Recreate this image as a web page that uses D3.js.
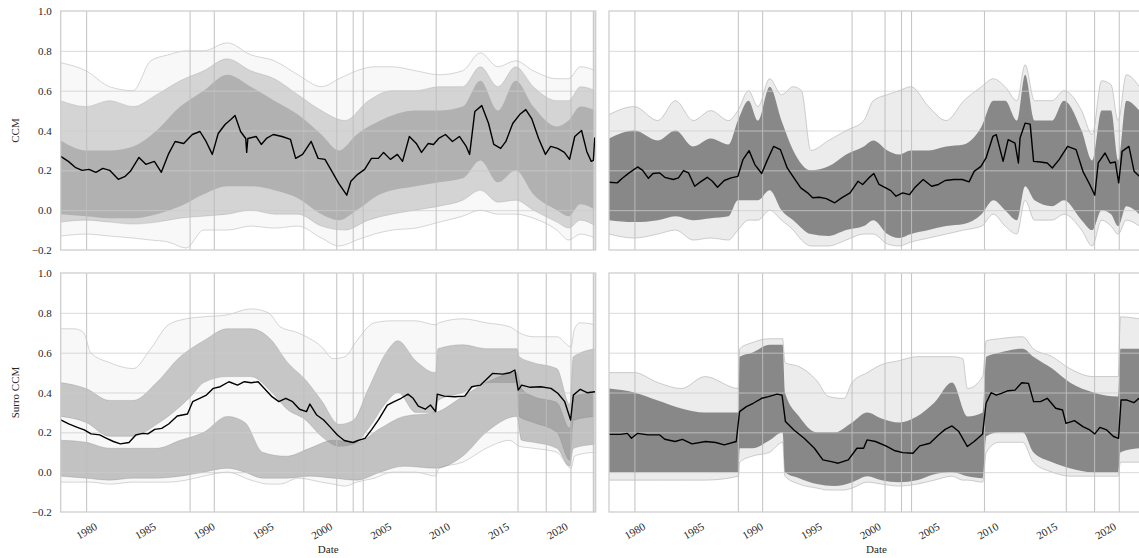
<!DOCTYPE html>
<html>
<head>
<meta charset="utf-8">
<script src="https://cdn.jsdelivr.net/npm/d3@7"></script>
<style>
  html, body { margin: 0; padding: 0; background: #fff; }
  svg { display: block; font-family: "Liberation Serif", "DejaVu Serif", serif; }
</style>
</head>
<body>
<svg id="chart" width="1139" height="558"></svg>
<script>
// ---------------------------------------------------------------------------
// Data (decimal years)
// ---------------------------------------------------------------------------
const yearTicks = [1980, 1985, 1990, 1995, 2000, 2005, 2010, 2015, 2020];
const valueTicks = [-0.2, 0.0, 0.2, 0.4, 0.6, 0.8, 1.0];
const yearDomain = [1977.85, 2023.3];
const valueDomain = [-0.2, 1.0];

// event dates marked with vertical lines
const eventDates = [1980.05, 1988.84, 1990.9, 1998.5, 2001.3, 2002.7, 2003.55,
  2009.75, 2016.7, 2019.1, 2021.2, 2023.1];
const shadedSpan = [2023.1, 2023.3];

const rowTitles = ["CCM", "Surro CCM"];
const xTitle = "Date";

// ---- CCM, left column ----
const ccmLeftMedian = [[1977.85,0.27],[1978.5,0.245],[1979.08,0.215],[1979.67,0.20],[1980.25,0.205],[1980.84,0.19],[1981.43,0.21],[1982.01,0.20],[1982.74,0.155],[1983.33,0.17],[1983.77,0.195],[1984.5,0.265],[1985.08,0.23],[1985.81,0.245],[1986.4,0.19],[1986.99,0.28],[1987.57,0.345],[1988.3,0.335],[1989.03,0.38],[1989.68,0.395],[1990.2,0.345],[1990.73,0.28],[1991.23,0.385],[1991.81,0.43],[1992.3,0.455],[1992.66,0.475],[1993.13,0.395],[1993.57,0.36],[1993.65,0.29],[1993.75,0.36],[1994.45,0.37],[1994.89,0.33],[1995.33,0.36],[1995.91,0.38],[1996.65,0.37],[1997.37,0.355],[1997.81,0.26],[1998.4,0.28],[1999.13,0.345],[1999.72,0.26],[2000.3,0.255],[2000.89,0.195],[2001.47,0.135],[2002.15,0.075],[2002.5,0.145],[2003.08,0.18],[2003.67,0.205],[2004.25,0.26],[2004.84,0.26],[2005.28,0.29],[2005.86,0.255],[2006.45,0.28],[2006.89,0.245],[2007.47,0.37],[2008.06,0.335],[2008.5,0.29],[2009.08,0.335],[2009.52,0.33],[2009.96,0.36],[2010.54,0.38],[2011.13,0.345],[2011.72,0.37],[2012.3,0.32],[2012.59,0.28],[2013.03,0.495],[2013.62,0.525],[2014.2,0.435],[2014.64,0.33],[2015.23,0.31],[2015.67,0.345],[2016.25,0.435],[2016.84,0.48],[2017.36,0.505],[2017.86,0.46],[2018.45,0.36],[2019.03,0.28],[2019.47,0.32],[2020.06,0.31],[2020.64,0.29],[2021.08,0.255],[2021.52,0.37],[2022.1,0.40],[2022.54,0.295],[2022.92,0.245],[2023.1,0.25],[2023.22,0.365]];
// [year, low, high]
const ccmLeftOuter = [[1977.85,-0.13,0.74],[1980,-0.12,0.70],[1982,-0.13,0.62],[1984,-0.14,0.60],[1985.5,-0.15,0.75],[1987,-0.16,0.78],[1988.5,-0.19,0.80],[1990,-0.10,0.80],[1992,-0.10,0.84],[1994,-0.08,0.78],[1996,-0.09,0.75],[1998,-0.08,0.68],[2000,-0.14,0.62],[2001.5,-0.18,0.66],[2003,-0.15,0.70],[2004.5,-0.12,0.72],[2006,-0.10,0.72],[2008,-0.09,0.70],[2010,-0.06,0.68],[2012,-0.03,0.70],[2013.5,0.00,0.79],[2015,-0.02,0.72],[2016.5,-0.02,0.75],[2018,-0.04,0.70],[2020,-0.10,0.66],[2021,-0.15,0.66],[2022,-0.12,0.72],[2023.3,-0.14,0.70]];
const ccmLeftMid = [[1977.85,-0.06,0.55],[1980,-0.05,0.52],[1982,-0.06,0.55],[1984,-0.07,0.52],[1986,-0.06,0.58],[1988,-0.04,0.65],[1990,-0.03,0.70],[1992,-0.02,0.76],[1994,0.00,0.70],[1996,-0.02,0.66],[1998,-0.02,0.58],[2000,-0.08,0.50],[2002,-0.10,0.45],[2004,-0.05,0.55],[2006,-0.02,0.60],[2008,0.00,0.60],[2010,0.02,0.62],[2012,0.05,0.62],[2013.5,0.10,0.72],[2015,0.04,0.62],[2016.5,0.05,0.72],[2018,0.00,0.62],[2020,-0.06,0.55],[2021,-0.09,0.55],[2022,-0.05,0.62],[2023.3,-0.08,0.60]];
const ccmLeftCore = [[1977.85,-0.02,0.35],[1980,-0.03,0.30],[1982,-0.04,0.30],[1984,-0.04,0.32],[1986,-0.02,0.40],[1988,0.02,0.52],[1990,0.08,0.60],[1992,0.12,0.68],[1994,0.12,0.62],[1996,0.10,0.55],[1998,0.06,0.48],[2000,-0.02,0.38],[2001.5,-0.05,0.30],[2003,0.00,0.38],[2005,0.08,0.45],[2008,0.12,0.50],[2010,0.14,0.50],[2012,0.16,0.52],[2013.5,0.25,0.65],[2015,0.14,0.50],[2016.5,0.20,0.65],[2018,0.08,0.52],[2020,0.00,0.42],[2021,-0.03,0.45],[2022,0.03,0.52],[2023.3,0.00,0.50]];

// ---- CCM, right column ----
const ccmRightMedian = [[1977.85,0.14],[1978.55,0.137],[1978.98,0.16],[1979.56,0.187],[1980.28,0.217],[1980.71,0.20],[1981.2,0.16],[1981.58,0.184],[1982.16,0.187],[1982.59,0.165],[1983.31,0.154],[1983.75,0.162],[1984.18,0.199],[1984.61,0.187],[1985.13,0.12],[1985.62,0.142],[1986.2,0.165],[1986.63,0.145],[1987.07,0.115],[1987.64,0.149],[1988.22,0.162],[1988.8,0.17],[1989.23,0.254],[1989.75,0.299],[1990.24,0.229],[1990.82,0.184],[1991.25,0.245],[1991.83,0.32],[1992.41,0.304],[1992.99,0.212],[1993.56,0.162],[1994.14,0.112],[1994.72,0.087],[1995.15,0.062],[1995.73,0.065],[1996.31,0.058],[1997.03,0.037],[1997.61,0.062],[1998.33,0.087],[1999.0,0.145],[1999.4,0.129],[1999.92,0.162],[2000.35,0.184],[2000.79,0.129],[2001.36,0.112],[2001.79,0.098],[2002.23,0.07],[2002.8,0.087],[2003.38,0.078],[2003.81,0.112],[2004.54,0.154],[2005.26,0.12],[2005.84,0.129],[2006.41,0.149],[2007.14,0.154],[2007.86,0.154],[2008.44,0.142],[2008.87,0.195],[2009.45,0.22],[2009.88,0.262],[2010.46,0.37],[2010.75,0.379],[2011.33,0.245],[2011.76,0.354],[2012.34,0.337],[2012.63,0.237],[2012.77,0.362],[2013.2,0.437],[2013.63,0.432],[2013.92,0.245],[2014.5,0.242],[2015.08,0.237],[2015.51,0.212],[2016.09,0.254],[2016.81,0.32],[2017.53,0.304],[2018.11,0.195],[2018.69,0.129],[2019.12,0.075],[2019.41,0.237],[2019.99,0.287],[2020.43,0.237],[2020.86,0.242],[2021.15,0.137],[2021.44,0.295],[2022.02,0.32],[2022.46,0.195],[2022.9,0.17]];
const ccmRightOuter = [[1977.85,-0.12,0.48],[1980,-0.14,0.52],[1982,-0.12,0.45],[1983.5,-0.10,0.55],[1985,-0.15,0.45],[1986.5,-0.14,0.50],[1988,-0.15,0.45],[1988.8,-0.10,0.50],[1989.7,-0.05,0.60],[1990.5,-0.05,0.52],[1991.5,0.00,0.66],[1992.5,-0.05,0.58],[1993.5,-0.10,0.62],[1994.2,-0.15,0.60],[1995,-0.18,0.30],[1996.5,-0.18,0.35],[1998,-0.15,0.40],[1999.5,-0.12,0.45],[2000.3,-0.12,0.55],[2001.5,-0.17,0.58],[2002.5,-0.18,0.60],[2003.5,-0.16,0.62],[2005,-0.14,0.52],[2006.5,-0.12,0.45],[2008,-0.10,0.55],[2009.5,-0.08,0.62],[2010.5,-0.02,0.66],[2011.5,-0.08,0.62],[2012.5,-0.12,0.55],[2013.2,0.05,0.73],[2014,-0.05,0.55],[2015.5,-0.05,0.55],[2016.5,-0.02,0.60],[2018,-0.10,0.50],[2018.9,-0.18,0.38],[2019.7,-0.05,0.65],[2020.5,-0.08,0.63],[2021.1,-0.12,0.45],[2021.8,-0.05,0.68],[2022.9,-0.08,0.62]];
const ccmRightCore = [[1977.85,-0.05,0.36],[1980,-0.06,0.40],[1982,-0.05,0.35],[1983.5,-0.03,0.40],[1985,-0.05,0.32],[1986.5,-0.04,0.36],[1988,-0.03,0.33],[1988.8,0.05,0.45],[1989.7,0.05,0.55],[1990.5,0.05,0.45],[1991.5,0.10,0.62],[1992.5,0.00,0.45],[1993.5,-0.05,0.30],[1995,-0.12,0.20],[1996.5,-0.13,0.22],[1998,-0.10,0.28],[1999.5,-0.08,0.32],[2000.3,-0.05,0.35],[2001.5,-0.12,0.30],[2002.5,-0.14,0.28],[2003.5,-0.12,0.30],[2005,-0.10,0.30],[2006.5,-0.08,0.32],[2008,-0.07,0.33],[2009.5,-0.02,0.42],[2010.5,0.05,0.55],[2011.5,0.00,0.55],[2012.5,-0.05,0.45],[2013.2,0.12,0.68],[2014,0.05,0.45],[2015.5,0.02,0.45],[2016.5,0.05,0.55],[2018,-0.05,0.40],[2018.9,-0.10,0.25],[2019.7,0.00,0.50],[2020.5,-0.02,0.50],[2021.1,-0.08,0.25],[2021.8,0.02,0.55],[2022.9,-0.02,0.50]];

// ---- Surrogate CCM, left column ----
const surroLeftMedian = [[1977.85,0.262],[1978.53,0.242],[1979.26,0.225],[1979.85,0.212],[1980.43,0.192],[1981.16,0.187],[1981.75,0.17],[1982.33,0.154],[1982.92,0.142],[1983.65,0.149],[1984.23,0.187],[1984.82,0.195],[1985.26,0.192],[1985.84,0.215],[1986.43,0.22],[1987.02,0.242],[1987.75,0.282],[1988.62,0.292],[1989.06,0.354],[1989.65,0.371],[1990.23,0.387],[1990.82,0.421],[1991.4,0.429],[1992.14,0.454],[1992.87,0.437],[1993.45,0.454],[1994.04,0.449],[1994.62,0.454],[1995.21,0.416],[1995.8,0.379],[1996.38,0.354],[1996.97,0.371],[1997.55,0.354],[1998.14,0.316],[1998.73,0.304],[1999.02,0.342],[1999.6,0.287],[2000.19,0.262],[2000.77,0.225],[2001.36,0.187],[2001.94,0.159],[2002.67,0.149],[2003.11,0.159],[2003.7,0.17],[2004.28,0.215],[2004.87,0.265],[2005.6,0.337],[2006.18,0.354],[2006.77,0.371],[2007.35,0.392],[2007.79,0.371],[2008.23,0.332],[2008.82,0.316],[2009.26,0.337],[2009.7,0.304],[2009.84,0.392],[2010.43,0.382],[2011.3,0.379],[2012.18,0.382],[2012.77,0.429],[2013.5,0.437],[2013.94,0.462],[2014.53,0.496],[2015.4,0.492],[2015.99,0.499],[2016.43,0.513],[2016.72,0.412],[2017.01,0.437],[2017.74,0.426],[2018.62,0.429],[2019.5,0.421],[2020.08,0.396],[2020.67,0.354],[2021.17,0.262],[2021.4,0.387],[2021.99,0.416],[2022.57,0.399],[2023.24,0.404]];
const surroLeftOuter = [[1977.85,-0.05,0.72],[1979,-0.05,0.72],[1979.8,-0.05,0.70],[1980.4,-0.05,0.60],[1982,-0.06,0.55],[1984,-0.05,0.52],[1985.5,-0.05,0.62],[1987,-0.05,0.74],[1988.5,-0.04,0.77],[1990,-0.02,0.78],[1992,0.00,0.79],[1994,-0.04,0.82],[1995.5,-0.06,0.80],[1996.5,-0.06,0.73],[1998,-0.03,0.70],[2000,-0.05,0.63],[2001,-0.06,0.57],[2002,-0.07,0.58],[2003,-0.05,0.66],[2004.5,-0.03,0.75],[2006,0.00,0.76],[2008,0.00,0.76],[2009.7,-0.02,0.74],[2010,0.02,0.75],[2012,0.05,0.77],[2014,0.12,0.75],[2016,0.16,0.73],[2016.8,0.13,0.70],[2018,0.12,0.68],[2020,0.10,0.68],[2021.2,0.02,0.63],[2021.5,0.08,0.72],[2022,0.09,0.75],[2023.3,0.10,0.74]];
const surroLeftUpper = [[1977.85,0.28,0.45],[1980,0.25,0.42],[1982,0.18,0.36],[1984,0.18,0.36],[1986,0.24,0.45],[1988,0.33,0.58],[1988.9,0.38,0.62],[1990,0.45,0.66],[1992,0.48,0.72],[1994,0.48,0.72],[1995.8,0.40,0.66],[1997,0.32,0.56],[1998.7,0.26,0.46],[2000,0.18,0.36],[2001.5,0.13,0.24],[2002.7,0.14,0.26],[2004,0.22,0.42],[2005.5,0.35,0.60],[2006.5,0.40,0.66],[2008,0.30,0.56],[2009.7,0.30,0.50],[2009.9,0.36,0.62],[2012,0.40,0.64],[2014,0.45,0.62],[2016.6,0.45,0.62],[2016.8,0.28,0.58],[2018,0.25,0.55],[2020,0.20,0.52],[2021.1,0.06,0.34],[2021.4,0.26,0.58],[2023.3,0.28,0.62]];
const surroLeftLower = [[1977.85,-0.02,0.16],[1980,-0.03,0.15],[1982,-0.04,0.12],[1984,-0.03,0.12],[1986,-0.03,0.12],[1988,-0.02,0.16],[1990,0.00,0.20],[1992,0.02,0.28],[1993.5,0.00,0.25],[1995,-0.03,0.10],[1997,-0.03,0.08],[1999,-0.02,0.12],[2001,-0.03,0.16],[2003,-0.04,0.15],[2005,0.00,0.22],[2007,0.03,0.28],[2009.7,0.02,0.30],[2012,0.08,0.38],[2014,0.20,0.45],[2016.6,0.28,0.50],[2017,0.16,0.42],[2018,0.15,0.38],[2020,0.12,0.35],[2021.1,0.03,0.22],[2021.4,0.12,0.38],[2023.3,0.14,0.40]];

// ---- Surrogate CCM, right column ----
const surroRightMedian = [[1977.85,0.19],[1978.84,0.19],[1979.41,0.195],[1979.76,0.17],[1980.28,0.195],[1981.15,0.187],[1982.16,0.187],[1982.59,0.165],[1983.46,0.154],[1984.09,0.165],[1984.9,0.142],[1986.06,0.154],[1986.92,0.149],[1987.64,0.137],[1988.66,0.154],[1988.94,0.304],[1989.52,0.329],[1990.1,0.346],[1990.82,0.371],[1991.4,0.379],[1992.12,0.392],[1992.55,0.387],[1992.84,0.254],[1993.56,0.212],[1994.43,0.17],[1995.3,0.12],[1996.02,0.062],[1996.74,0.053],[1997.32,0.045],[1998.18,0.062],[1998.91,0.12],[1999.48,0.12],[1999.77,0.162],[2000.49,0.154],[2001.36,0.132],[2002.08,0.109],[2002.8,0.098],[2003.67,0.095],[2004.25,0.132],[2005.11,0.145],[2005.84,0.187],[2006.41,0.215],[2006.99,0.232],[2007.57,0.204],[2008.29,0.129],[2008.87,0.154],[2009.59,0.192],[2009.88,0.346],[2010.31,0.399],[2010.75,0.387],[2011.18,0.396],[2011.76,0.409],[2012.34,0.412],[2012.91,0.449],[2013.49,0.446],[2013.92,0.354],[2014.5,0.354],[2015.08,0.371],[2015.8,0.321],[2016.38,0.312],[2016.67,0.245],[2017.39,0.259],[2018.11,0.229],[2018.69,0.212],[2019.12,0.192],[2019.55,0.225],[2020.13,0.212],[2020.71,0.179],[2021.14,0.17],[2021.35,0.362],[2021.86,0.362],[2022.44,0.349],[2022.87,0.371]];
const surroRightOuter = [[1977.85,-0.04,0.50],[1980,-0.04,0.50],[1982,-0.04,0.45],[1984,-0.04,0.42],[1986,-0.04,0.48],[1988.85,-0.02,0.42],[1988.95,0.05,0.62],[1990,0.08,0.65],[1991.5,0.10,0.67],[1992.6,0.15,0.67],[1992.8,-0.02,0.55],[1994,-0.06,0.53],[1995.5,-0.08,0.46],[1996.5,-0.09,0.38],[1997.8,-0.09,0.37],[1998.5,-0.08,0.45],[1999.8,-0.05,0.50],[2001,-0.06,0.54],[2002.5,-0.07,0.56],[2004,-0.06,0.58],[2005.5,-0.04,0.58],[2007,-0.02,0.58],[2007.9,-0.04,0.57],[2008.3,-0.04,0.42],[2009.6,-0.05,0.48],[2009.9,0.10,0.66],[2011,0.15,0.67],[2013,0.15,0.68],[2013.9,0.05,0.62],[2015.5,0.00,0.58],[2017,-0.02,0.52],[2019,-0.02,0.48],[2021.1,-0.02,0.48],[2021.3,0.05,0.78],[2022.9,0.05,0.77]];
const surroRightCore = [[1977.85,0.00,0.42],[1980,0.00,0.40],[1982,0.00,0.36],[1984,0.00,0.32],[1986,0.00,0.30],[1988.85,0.00,0.30],[1988.95,0.12,0.58],[1990,0.12,0.60],[1991.5,0.16,0.64],[1992.6,0.20,0.64],[1992.8,0.00,0.40],[1994,-0.03,0.28],[1995.5,-0.06,0.20],[1997,-0.07,0.20],[1998.5,-0.05,0.25],[1999.8,-0.02,0.30],[2001,-0.04,0.27],[2002.5,-0.05,0.25],[2004,-0.04,0.28],[2005.5,-0.01,0.35],[2007,0.00,0.45],[2008.3,-0.02,0.28],[2009.6,-0.03,0.30],[2009.9,0.18,0.58],[2011,0.20,0.60],[2013,0.20,0.62],[2013.9,0.10,0.58],[2015.5,0.05,0.52],[2017,0.02,0.45],[2019,0.00,0.40],[2021.1,0.00,0.38],[2021.3,0.10,0.62],[2022.9,0.12,0.62]];

// ---------------------------------------------------------------------------
// Layout
// ---------------------------------------------------------------------------
const svg = d3.select("#chart");
const colX = [60.7, 609];
const rowY = [11, 273];
const plotW = 535, plotH = 239;
const ink = "#262626";
const gray = "#808080";

const panels = [
  { row: 0, col: 0, median: ccmLeftMedian, bands: [
      { data: ccmLeftOuter, fill: 0.06, edge: 0.35 },
      { data: ccmLeftMid, fill: 0.30, edge: 0.25 },
      { data: ccmLeftCore, fill: 0.42, edge: 0 } ] },
  { row: 0, col: 1, median: ccmRightMedian, bands: [
      { data: ccmRightOuter, fill: 0.15, edge: 0.4 },
      { data: ccmRightCore, fill: 0.93, edge: 0 } ] },
  { row: 1, col: 0, median: surroLeftMedian, bands: [
      { data: surroLeftOuter, fill: 0.06, edge: 0.35 },
      { data: surroLeftUpper, fill: 0.42, edge: 0.3 },
      { data: surroLeftLower, fill: 0.45, edge: 0.3 } ] },
  { row: 1, col: 1, median: surroRightMedian, bands: [
      { data: surroRightOuter, fill: 0.15, edge: 0.4 },
      { data: surroRightCore, fill: 0.93, edge: 0 } ] }
];

const defs = svg.append("defs");
const bandCurve = d3.curveMonotoneX;

panels.forEach((p, i) => {
  const x0 = colX[p.col], y0 = rowY[p.row];
  const x = d3.scaleLinear().domain(yearDomain).range([x0, x0 + plotW]);
  const y = d3.scaleLinear().domain(valueDomain).range([y0 + plotH, y0]);

  defs.append("clipPath").attr("id", "clip" + i)
    .append("rect").attr("x", x0).attr("y", y0).attr("width", plotW).attr("height", plotH);

  const g = svg.append("g");
  const plot = g.append("g").attr("clip-path", `url(#clip${i})`);

  // ensemble envelopes
  const area = d3.area().curve(bandCurve).x(d => x(d[0])).y0(d => y(d[1])).y1(d => y(d[2]));
  const lo = d3.line().curve(bandCurve).x(d => x(d[0])).y(d => y(d[1]));
  const hi = d3.line().curve(bandCurve).x(d => x(d[0])).y(d => y(d[2]));
  p.bands.forEach(b => {
    plot.append("path").attr("d", area(b.data))
      .attr("fill", gray).attr("fill-opacity", b.fill);
    if (b.edge > 0) {
      [lo, hi].forEach(gen => plot.append("path").attr("d", gen(b.data))
        .attr("fill", "none").attr("stroke", gray)
        .attr("stroke-opacity", b.edge).attr("stroke-width", 0.9));
    }
  });

  // horizontal grid
  plot.append("g")
    .attr("transform", `translate(${x0},0)`)
    .call(d3.axisLeft(y).tickValues(valueTicks.slice(1, -1)).tickSize(-plotW).tickFormat(""))
    .call(s => s.select(".domain").remove())
    .call(s => s.selectAll("line").attr("stroke", "#cccccc").attr("stroke-opacity", 0.75).attr("stroke-width", 1));

  // event lines and final shaded span
  plot.append("rect")
    .attr("x", x(shadedSpan[0])).attr("y", y0)
    .attr("width", x(shadedSpan[1]) - x(shadedSpan[0])).attr("height", plotH)
    .attr("fill", "#d9d9d9").attr("fill-opacity", 0.8);
  plot.selectAll(".ev").data(eventDates).join("line")
    .attr("x1", d => x(d)).attr("x2", d => x(d))
    .attr("y1", y0).attr("y2", y0 + plotH)
    .attr("stroke", "#bdbdbd").attr("stroke-opacity", 0.85).attr("stroke-width", 1.1);

  // median line
  plot.append("path")
    .attr("d", d3.line().x(d => x(d[0])).y(d => y(d[1]))(p.median))
    .attr("fill", "none").attr("stroke", "#000").attr("stroke-width", 1.4)
    .attr("stroke-linejoin", "round");

  // frame
  g.append("rect").attr("x", x0).attr("y", y0).attr("width", plotW).attr("height", plotH)
    .attr("fill", "none").attr("stroke", "#cccccc").attr("stroke-width", 1.25);

  // y tick labels on the left column
  if (p.col === 0) {
    g.append("g").attr("transform", `translate(${x0},0)`)
      .call(d3.axisLeft(y).tickValues(valueTicks).tickSize(0).tickPadding(9).tickFormat(d3.format(".1f")))
      .call(s => s.select(".domain").remove())
      .call(s => s.selectAll("text").attr("fill", ink).style("font-size", "11px")
        .style("font-family", "'Liberation Serif','DejaVu Serif',serif"));
    g.append("text")
      .attr("transform", `translate(15,${y0 + plotH / 2}) rotate(-90)`)
      .attr("text-anchor", "middle").attr("dominant-baseline", "central")
      .attr("fill", ink).style("font-size", "11px")
      .text(rowTitles[p.row]);
  }

  // x tick labels on the bottom row
  if (p.row === 1) {
    g.append("g").attr("transform", `translate(0,${y0 + plotH})`)
      .call(d3.axisBottom(x).tickValues(yearTicks).tickSize(0).tickFormat(d3.format("d")))
      .call(s => s.select(".domain").remove())
      .call(s => s.selectAll("text")
        .attr("y", 0).attr("dy", "0.35em")
        .attr("text-anchor", "middle")
        .attr("transform", "translate(0,19) rotate(-30)")
        .attr("fill", ink).style("font-size", "11px")
        .style("font-family", "'Liberation Serif','DejaVu Serif',serif"));
    g.append("text")
      .attr("x", x0 + plotW / 2).attr("y", 549)
      .attr("text-anchor", "middle").attr("dominant-baseline", "central")
      .attr("fill", ink).style("font-size", "11px")
      .text(xTitle);
  }
});
</script>
</body>
</html>
